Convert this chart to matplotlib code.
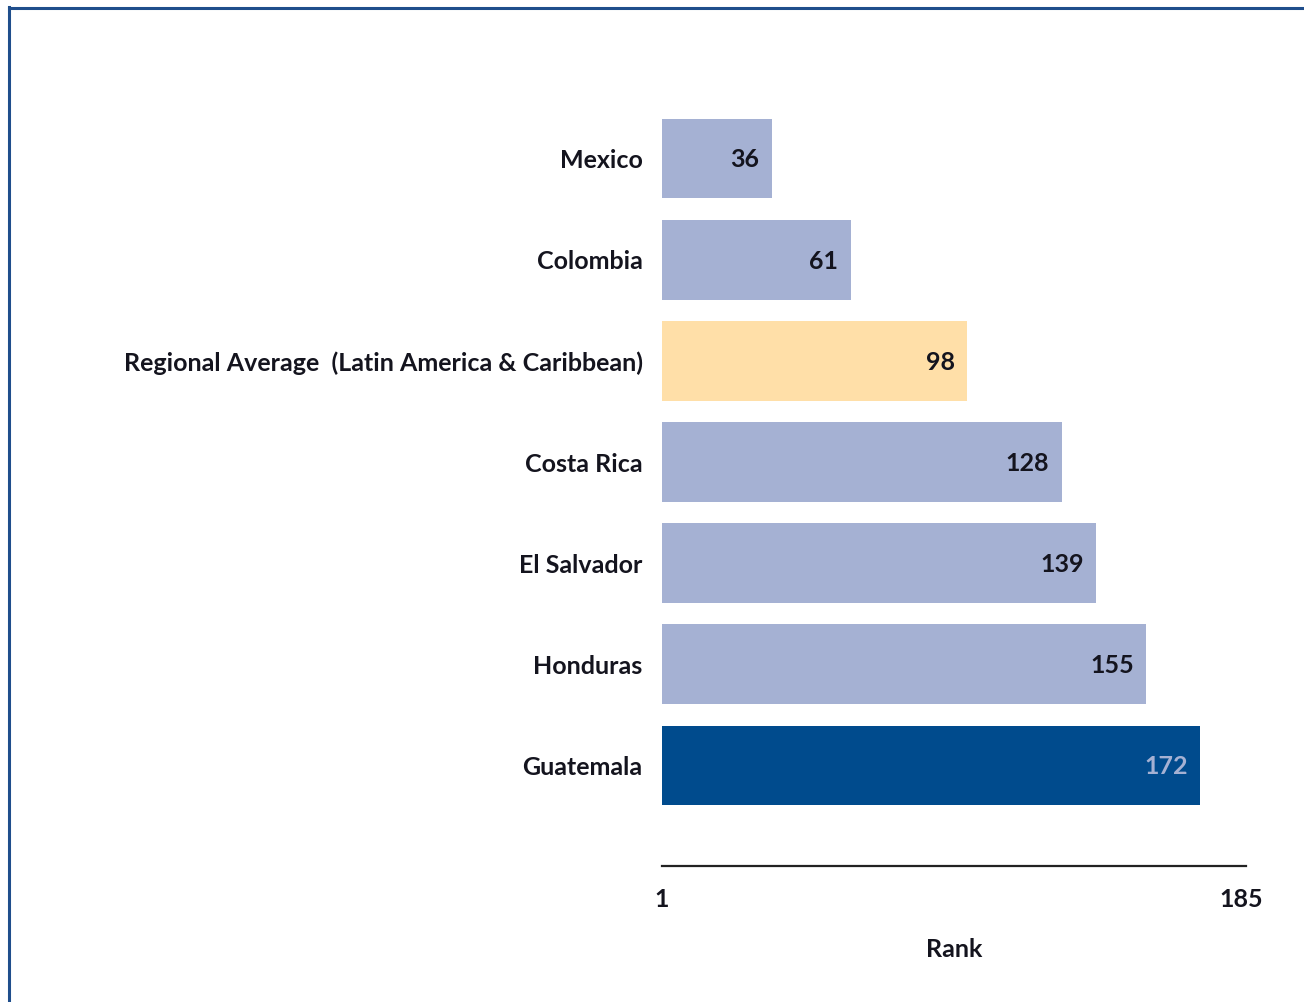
import matplotlib
matplotlib.use("Agg")
import matplotlib.pyplot as plt
from matplotlib.lines import Line2D

# Ranking data (lower rank is better)
countries = ["Mexico", "Colombia", "Regional Average  (Latin America & Caribbean)",
             "Costa Rica", "El Salvador", "Honduras", "Guatemala"]
ranks = [36, 61, 98, 128, 139, 155, 172]
bar_colors = ["#A5B1D3", "#A5B1D3", "#FFDFA8", "#A5B1D3", "#A5B1D3", "#A5B1D3", "#004B8D"]
value_colors = ["#14141e", "#14141e", "#14141e", "#14141e", "#14141e", "#14141e", "#A5B1D3"]
rank_min, rank_max = 1, 185

FONT = ["Lato", "DejaVu Sans"]
plt.rcParams["font.family"] = FONT
FS = 18

W, H = 1304, 1002
fig = plt.figure(figsize=(W / 100, H / 100), dpi=100)
fig.patch.set_facecolor("white")

# Frame along the top and left edges of the figure
fig.add_artist(Line2D([9 / W, 9 / W], [0, 1 - 7 / H], transform=fig.transFigure,
                      color="#1F4E8C", lw=2.2))
fig.add_artist(Line2D([9 / W, 1], [1 - 8 / H, 1 - 8 / H], transform=fig.transFigure,
                      color="#1F4E8C", lw=2.2))

left, right = 662 / W, 1246 / W
bottom, top = 1 - 866 / H, 1 - 100 / H
ax = fig.add_axes([left, bottom, right - left, top - bottom])

y = list(range(len(countries)))
widths = [r - rank_min for r in ranks]
ax.barh(y, widths, left=rank_min, height=0.79, color=bar_colors, edgecolor="none")

ax.set_xlim(rank_min, rank_min + 584 / 3.146)
ax.set_ylim(6.993, -0.578)

for yi, r, tc in zip(y, ranks, value_colors):
    ax.annotate(str(r), xy=(r, yi), xytext=(-9, -1), textcoords="offset points",
                ha="right", va="center", fontsize=FS, fontweight="bold", color=tc)

ax.set_yticks(y)
ax.set_yticklabels(countries, fontsize=FS, fontweight="bold", color="#14141e")
ax.tick_params(axis="y", length=0, pad=14)

ax.set_xticks([rank_min, rank_max])
ax.set_xticklabels([str(rank_min), str(rank_max)], fontsize=FS, fontweight="bold",
                   color="#14141e")
ax.tick_params(axis="x", length=0, pad=16)

for s in ["top", "right", "left"]:
    ax.spines[s].set_visible(False)
ax.spines["bottom"].set_color("#222222")
ax.spines["bottom"].set_linewidth(1.6)

ax.set_xlabel("Rank", fontsize=FS, fontweight="bold", color="#14141e", labelpad=19)

fig.savefig("out.png", dpi=100, facecolor="white")
